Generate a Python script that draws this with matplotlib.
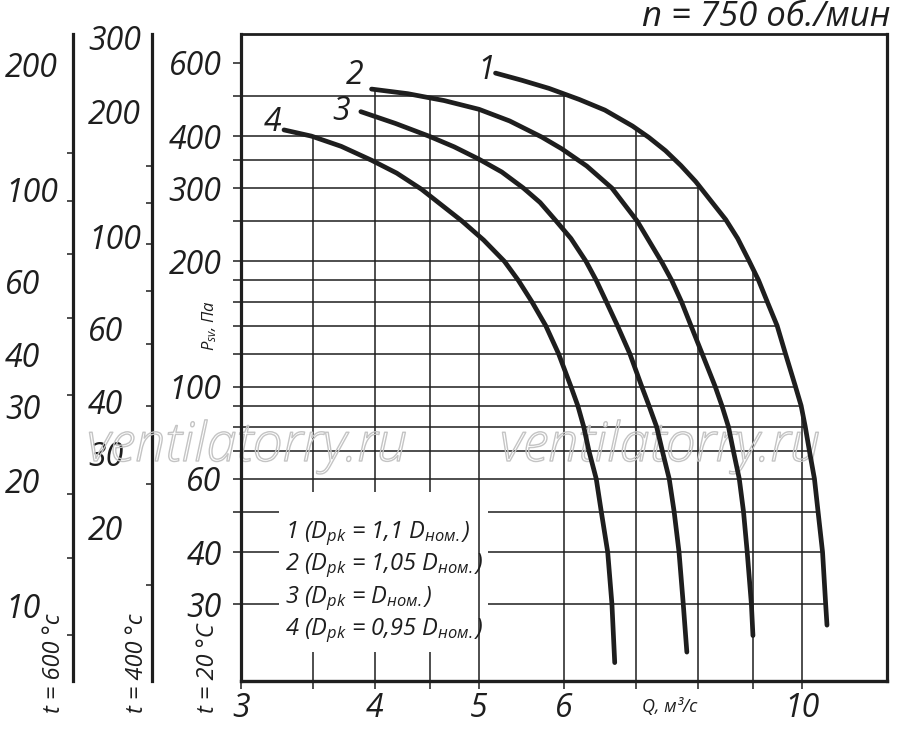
import numpy as np
import matplotlib
matplotlib.use("Agg")
import matplotlib.pyplot as plt
from matplotlib.ticker import NullFormatter, FixedLocator
from matplotlib.patches import Rectangle
import matplotlib.patheffects as pe

plt.rcParams['font.family'] = ['Open Sans', 'DejaVu Sans']
plt.rcParams['font.style'] = 'italic'
plt.rcParams['mathtext.fontset'] = 'custom'
plt.rcParams['mathtext.rm'] = 'Open Sans:italic'
plt.rcParams['mathtext.it'] = 'Open Sans:italic'

# curves: Q (m3/s) vs Psv (Pa)
q1 = [5.18, 5.48, 5.81, 6.20, 6.55, 6.95, 7.20, 7.46, 7.71, 7.96, 8.22, 8.49, 8.71, 8.93, 9.11, 9.28, 9.48, 9.65, 9.86, 9.98, 10.07, 10.16, 10.27, 10.35, 10.45, 10.52, 10.55]
p1 = [567, 545, 521, 490, 462, 423, 397, 369, 340, 311, 280, 252, 227, 200, 180, 160, 140, 120, 100, 90, 80, 70, 60, 50, 40, 30, 26.7]
q2 = [3.97, 4.29, 4.64, 5.00, 5.34, 5.72, 5.97, 6.30, 6.65, 7.02, 7.41, 7.56, 7.72, 7.88, 8.07, 8.30, 8.42, 8.54, 8.63, 8.74, 8.82, 8.89, 8.97, 9.00]
p2 = [519, 506, 487, 464, 435, 398, 373, 339, 300, 250, 198, 180, 160, 140, 120, 100, 90, 80, 70, 60, 50, 40, 30, 25.2]
q3 = [3.88, 4.18, 4.49, 4.74, 5.00, 5.25, 5.50, 5.70, 5.90, 6.09, 6.29, 6.43, 6.57, 6.73, 6.91, 7.09, 7.20, 7.32, 7.41, 7.52, 7.60, 7.68, 7.75, 7.81]
p3 = [458, 429, 400, 377, 352, 328, 300, 277, 250, 227, 200, 180, 160, 140, 120, 100, 90, 80, 70, 60, 50, 40, 30, 23]
q4 = [3.29, 3.49, 3.72, 3.97, 4.19, 4.42, 4.82, 5.05, 5.28, 5.44, 5.60, 5.77, 5.93, 6.09, 6.18, 6.26, 6.33, 6.43, 6.50, 6.59, 6.65, 6.69]
p4 = [414, 400, 378, 350, 326, 298, 250, 225, 200, 180, 160, 140, 120, 100, 90, 80, 70, 60, 50, 40, 30, 21.7]
curves = [(q1, p1, '1'), (q2, p2, '2'), (q3, p3, '3'), (q4, p4, '4')]
label_offsets = {'1': (-7, 2), '2': (-12, 10), '3': (-14, 0), '4': (-8, 5)}

legend_lines = ['1 ($D_{pk}$ = 1,1 $D_{ном.}$)',
                '2 ($D_{pk}$ = 1,05 $D_{ном.}$)',
                '3 ($D_{pk}$ = $D_{ном.}$)',
                '4 ($D_{pk}$ = 0,95 $D_{ном.}$)']

x_major = [3, 4, 5, 6, 10]
x_minor = [3.5, 4.5, 7, 8, 9]
y_major = [600, 400, 300, 200, 100, 60, 40, 30]
y_minor = [500, 350, 250, 180, 160, 140, 120, 90, 80, 70, 50]
h_grid = [500, 400, 350, 300, 250, 200, 180, 160, 140, 120, 100, 90, 80, 70, 60, 50, 40, 30]
v_grid = [3.5, 4, 4.5, 5, 6, 7, 8, 9, 10]

# temperature scales (density ratio to 20 C)
k600 = 293.0 / 873.0
k400 = 293.0 / 673.0
t600_labels = [200, 100, 60, 40, 30, 20, 10]
t600_ticks = [122, 94, 70, 49, 32, 18.5, 13, 8.5]
t400_labels = [300, 200, 100, 60, 40, 30, 20]
t400_ticks = [148, 120, 96, 74, 55, 39, 25.4, 14.5]

xlim = (3.0, 12.0)
ylim = (19.6, 704)
ink = '#1e1e1e'
num_size = 23

fig = plt.figure(figsize=(9, 7.32), dpi=100)
ax = fig.add_axes([241/900, 1-681/732, 646/900, 647/732])
ax.set_xscale('log')
ax.set_yscale('log')
ax.set_xlim(*xlim)
ax.set_ylim(*ylim)

# grid, cut along the curves
lq1 = np.log10(q1)[::-1]
lp1 = np.log10(p1)[::-1]
for p in h_grid:
    qend = 10 ** np.interp(np.log10(p), lp1, lq1)
    ax.plot([xlim[0], qend], [p, p], color=ink, lw=1.1, zorder=1, solid_capstyle='butt')
for q in v_grid:
    tops = []
    for qs, ps, _ in curves:
        if qs[0] <= q <= qs[-1]:
            tops.append(10 ** np.interp(np.log10(q), np.log10(qs), np.log10(ps)))
    ax.plot([q, q], [ylim[0], max(tops)], color=ink, lw=1.1,
            zorder=2 if q >= 5 else 1, solid_capstyle='butt')

# white box under the legend text
ax.add_patch(Rectangle((0.059, 0.045), 0.323, 0.247, transform=ax.transAxes,
                       facecolor='white', edgecolor='none', zorder=1.5))

for qs, ps, name in curves:
    ax.plot(qs, ps, color=ink, lw=3.4, zorder=3, solid_capstyle='round',
            solid_joinstyle='round')
    ax.annotate(name, xy=(qs[0], ps[0]), xytext=label_offsets[name],
                textcoords='offset points', ha='center', va='center',
                fontsize=num_size, color=ink)

for i, s in enumerate(legend_lines):
    ax.text(0.068, 0.221 - i*0.05, s, transform=ax.transAxes, fontsize=17,
            color=ink, ha='left', va='baseline', zorder=4)

# spines and ticks
for side, w in [('left', 2.3), ('bottom', 2.4), ('top', 2.0), ('right', 2.3)]:
    ax.spines[side].set_linewidth(w)
    ax.spines[side].set_color(ink)
ax.set_xticks(x_major, labels=[str(v) for v in x_major])
ax.set_xticks(x_minor, minor=True)
ax.set_yticks(y_major, labels=[str(v) for v in y_major])
ax.set_yticks(y_minor, minor=True)
ax.xaxis.set_minor_formatter(NullFormatter())
ax.yaxis.set_minor_formatter(NullFormatter())
ax.tick_params(which='both', direction='out', length=6, width=1.1, color=ink)
ax.tick_params(axis='y', which='major', labelsize=num_size, pad=8, labelcolor=ink)
ax.tick_params(axis='x', which='major', labelsize=num_size, pad=2, labelcolor=ink)

for k, loc, labs, minors, pad in [(k600, -0.2601, t600_labels, t600_ticks, 49),
                                   (k400, -0.1378, t400_labels, t400_ticks, 46)]:
    sec = ax.secondary_yaxis(loc, functions=(lambda p, k=k: p * k, lambda p, k=k: p / k))
    sec.set_yticks(labs, labels=[str(v) for v in labs])
    sec.yaxis.set_minor_locator(FixedLocator(minors))
    sec.yaxis.set_minor_formatter(NullFormatter())
    sec.spines['left'].set_linewidth(2.3)
    sec.spines['left'].set_color(ink)
    sec.tick_params(which='major', length=0, pad=pad, labelsize=num_size, labelcolor=ink)
    sec.tick_params(which='minor', length=4.5, width=1.1, color=ink)
    for t in sec.get_yticklabels():
        t.set_horizontalalignment('left')

# axis titles and temperature notes
fig.text(210/900, 1-325/732, '$P_{sv}$, Па', rotation=90, ha='center', va='center',
         fontsize=12, color=ink)
fig.text(670/900, 1-707/732, 'Q, м³/с', ha='center', va='center', fontsize=13, color=ink)
fig.text(54/900, 1-713/732, 't = 600 °c', rotation=90, ha='center', va='bottom',
         fontsize=17, color=ink)
fig.text(137/900, 1-713/732, 't = 400 °c', rotation=90, ha='center', va='bottom',
         fontsize=17, color=ink)
fig.text(208/900, 1-713/732, 't = 20 °C', rotation=90, ha='center', va='bottom',
         fontsize=17, color=ink)
fig.text(890/900, 1-26/732, 'n = 750 об./мин', ha='right', va='baseline',
         fontsize=25, color=ink)

# watermark
for xc in [247, 660]:
    ax.text(xc/900, 1-447/732, 'ventilatorry.ru', transform=fig.transFigure,
            ha='center', va='center', fontsize=39, fontweight='light',
            color=(1, 1, 1, 0), zorder=2.5,
            path_effects=[pe.Stroke(linewidth=1.0, foreground='#c4c4c4')])

fig.savefig('out.png', dpi=100)
